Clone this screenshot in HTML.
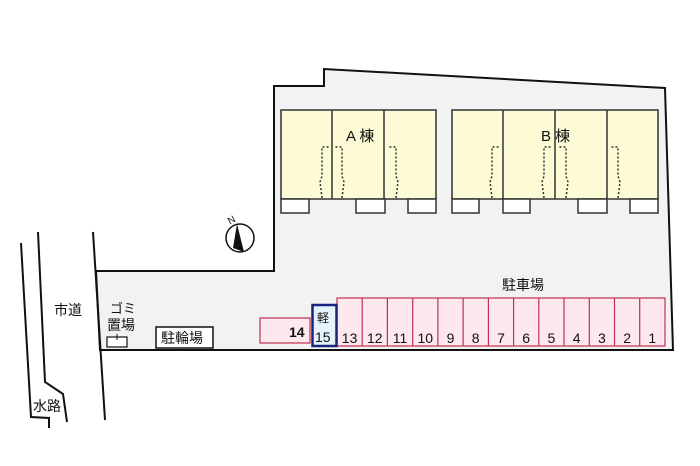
<!DOCTYPE html><html><head><meta charset="utf-8"><style>body{margin:0;background:#fff}svg{display:block}text{font-family:"Liberation Sans","Noto Sans CJK JP",sans-serif;fill:#111}</style></head><body>
<svg width="700" height="466" viewBox="0 0 700 466">
<polygon points="96,271 274,271 274,86 324,86 324,69 665,88 673,350 100,350" fill="#f2f2f2" stroke="#111" stroke-width="2"/>
<line x1="93" y1="232" x2="105" y2="420" stroke="#111" stroke-width="2"/>
<polyline points="21,243 31,417 49,418 49,428" fill="none" stroke="#111" stroke-width="2"/>
<polyline points="38,232 45,382 63,394 67,422" fill="none" stroke="#111" stroke-width="2"/>
<g fill="#fdfbd6" stroke="#333" stroke-width="1.5">
<rect x="281" y="110" width="155" height="89"/><rect x="452" y="110" width="206" height="89"/></g>
<g stroke="#333" stroke-width="1.5"><line x1="332" y1="110" x2="332" y2="199"/><line x1="384" y1="110" x2="384" y2="199"/><line x1="503" y1="110" x2="503" y2="199"/><line x1="555" y1="110" x2="555" y2="199"/><line x1="607" y1="110" x2="607" y2="199"/></g>
<g fill="#fff" stroke="#333" stroke-width="1.5"><rect x="281" y="199" width="28" height="14"/><rect x="356" y="199" width="29" height="14"/><rect x="408" y="199" width="28" height="14"/><rect x="452" y="199" width="27" height="14"/><rect x="503" y="199" width="27" height="14"/><rect x="578" y="199" width="29" height="14"/><rect x="630" y="199" width="28" height="14"/></g>
<g fill="none" stroke="#333" stroke-width="1.5" stroke-dasharray="2,2">
<polyline points="322,198 320,182 322,176 322,147 330,147"/><polyline points="342,198 344,182 342,176 342,147 334,147"/><polyline points="396,198 398,182 396,176 396,147 388,147"/>
<polyline points="492,198 490,182 492,176 492,147 500,147"/><polyline points="544,198 542,182 544,176 544,147 552,147"/><polyline points="566,198 568,182 566,176 566,147 558,147"/><polyline points="618,198 620,182 618,176 618,147 610,147"/></g>
<text x="346" y="141" font-size="15">A 棟</text><text x="541" y="141" font-size="15">B 棟</text>
<circle cx="240" cy="238" r="14" fill="#fff" stroke="#111" stroke-width="1.5"/><polygon points="237,224 244,252 233,248" fill="#111"/>
<text x="228" y="223" font-size="10" transform="rotate(-30 232 220)">N</text>
<g fill="#fce8ee" stroke="#c03050" stroke-width="1.2"><rect x="260" y="318" width="50" height="25"/>
<rect x="337" y="298" width="328" height="48"/></g>
<g stroke="#c03050" stroke-width="1.2">
<line x1="362.2" y1="298" x2="362.2" y2="346"/><line x1="387.4" y1="298" x2="387.4" y2="346"/><line x1="412.7" y1="298" x2="412.7" y2="346"/><line x1="437.9" y1="298" x2="437.9" y2="346"/><line x1="463.1" y1="298" x2="463.1" y2="346"/><line x1="488.4" y1="298" x2="488.4" y2="346"/><line x1="513.6" y1="298" x2="513.6" y2="346"/><line x1="538.8" y1="298" x2="538.8" y2="346"/><line x1="564" y1="298" x2="564" y2="346"/><line x1="589.3" y1="298" x2="589.3" y2="346"/><line x1="614.5" y1="298" x2="614.5" y2="346"/><line x1="639.7" y1="298" x2="639.7" y2="346"/></g>
<rect x="312.5" y="305" width="24" height="41" fill="#e6f2fb" stroke="#1a237e" stroke-width="2.5"/>
<text x="317" y="322" font-size="12">軽</text><text x="315" y="342" font-size="14">15</text>
<text x="289" y="337" font-size="14" font-weight="bold">14</text>
<g font-size="14" text-anchor="middle"><text x="349.6" y="343">13</text><text x="374.8" y="343">12</text><text x="400" y="343">11</text><text x="425.3" y="343">10</text><text x="450.5" y="343">9</text><text x="475.7" y="343">8</text><text x="501" y="343">7</text><text x="526.2" y="343">6</text><text x="551.4" y="343">5</text><text x="576.6" y="343">4</text><text x="601.9" y="343">3</text><text x="627.1" y="343">2</text><text x="652.3" y="343">1</text></g>
<text x="502" y="290" font-size="14">駐車場</text>
<rect x="156" y="327" width="57" height="21" fill="#fff" stroke="#111" stroke-width="1.5"/><text x="161" y="343" font-size="14">駐輪場</text>
<text x="110" y="313" font-size="13">ゴミ</text><text x="107" y="330" font-size="14">置場</text>
<rect x="107" y="337" width="20" height="10" fill="#fff" stroke="#111" stroke-width="1.2"/><line x1="117" y1="334" x2="117" y2="340" stroke="#111"/>
<text x="54" y="315" font-size="14">市道</text><text x="33" y="411" font-size="14">水路</text>
</svg></body></html>
